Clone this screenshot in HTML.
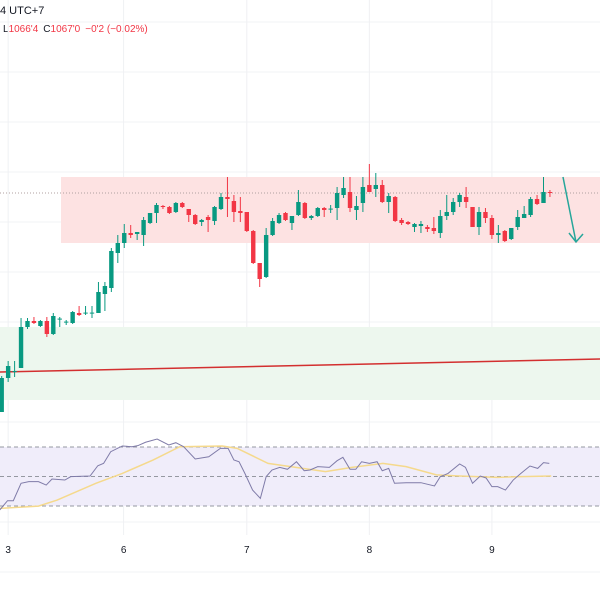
<!DOCTYPE html>
<html><head><meta charset="utf-8"><style>
html,body{margin:0;padding:0;background:#fff;width:600px;height:600px;overflow:hidden}
svg{display:block;font-family:"Liberation Sans",sans-serif}
</style></head><body>
<svg id="chart" width="600" height="600">
<text x="0" y="14" font-size="11" fill="#131722">4 UTC+7</text>
<text x="3" y="32" font-size="10"><tspan fill="#131722">L</tspan><tspan fill="#f23645">1066'4</tspan><tspan fill="#131722" dx="5">C</tspan><tspan fill="#f23645">1067'0</tspan><tspan fill="#f23645" dx="5">−0'2 (−0.02%)</tspan></text>
<g id="grid"></g><g id="zones"></g><g id="candles"></g><g id="rsi"></g><g id="xaxis"></g>
</svg>
<script>
const opens=[1044,1061,1064,1066,1086.5,1089.5,1087,1089.5,1083,1090.5,1089,1088.5,1093.5,1093.5,1093.2,1093.5,1103,1106,1123.5,1128.5,1133.5,1133,1132.5,1138.5,1143.5,1147,1146.5,1144,1148.5,1145.5,1142.5,1139,1141.5,1139.5,1145.5,1151.5,1149.5,1144.5,1144,1134.5,1118.5,1111.5,1132.5,1138.5,1143.5,1138.5,1142.5,1148.5,1141,1142,1146,1145.5,1146,1152.5,1154,1145,1148.5,1157.5,1155.5,1157.5,1149,1151.5,1140,1139,1136.5,1137,1136.5,1136,1133.5,1142,1144,1149,1151.5,1146.5,1136.5,1144,1141,1132.5,1134.5,1130.5,1136.5,1141,1142.5,1150.5,1148.5,1154];
const highs=[1062,1069.5,1069.5,1091,1091,1091.5,1090,1091.5,1093.5,1091.5,1090,1094.5,1097,1097,1097,1109,1109,1126,1132.5,1138,1137.5,1134,1141.5,1143.5,1148.5,1147.5,1147,1149,1149,1145.5,1143,1140.5,1142.5,1147,1153.5,1161.5,1152.5,1151.5,1144,1135,1118.5,1136,1141,1143.5,1144,1142,1155,1149,1142.5,1146.5,1146.5,1147.5,1156.5,1161.5,1161.5,1152,1161.5,1168,1163.5,1160,1153.5,1152,1141,1139.5,1138.5,1139.5,1137.5,1141.5,1145,1152.5,1151,1153.5,1156.5,1146.5,1146.5,1146,1142.5,1137.5,1135,1136,1145,1147,1151.5,1152.5,1161.5,1155];
const lows=[1044,1059,1061.5,1066,1085.5,1088,1086.5,1081.5,1082.5,1086.5,1087.5,1088,1092,1092.5,1091,1093.5,1094.5,1104,1118.5,1126,1131,1130,1127,1138,1138.5,1145.5,1143,1143.5,1146,1139,1137.5,1137,1134,1137.5,1145,1141.5,1139,1139,1134,1118,1106.5,1111,1132,1138,1139.5,1135,1142,1140.5,1140,1141.5,1141.5,1143.5,1140,1151,1144,1140,1144,1154,1151.5,1148.5,1143.5,1139,1137.5,1137.5,1134,1133.5,1134,1133,1131,1140,1142.5,1146.5,1146,1136.5,1132.5,1138.5,1130.5,1128.5,1129,1130,1135,1141,1141.5,1147.5,1148.5,1151.5];
const closes=[1061,1067,1064.5,1086.5,1089.5,1088.5,1089.5,1083,1092,1090.7,1089.2,1094,1092.5,1093.7,1093.7,1104,1107,1124.5,1128.5,1133.5,1132.5,1134,1140,1143.5,1147.5,1146.5,1143.5,1148.5,1146.5,1142.5,1138,1140,1140,1146.5,1151.5,1150.5,1144,1143.5,1134.5,1118.5,1110.5,1132.5,1139.5,1142.5,1140,1142,1149,1141,1142,1146,1145,1145.7,1153.5,1156,1146,1147,1156.5,1154,1157.5,1149,1152,1139.5,1138.5,1138,1138,1138,1135.5,1134.5,1142,1144,1149,1152.5,1149,1136.5,1144,1141,1132.5,1133.5,1129.5,1136,1141.5,1143,1150.5,1148,1154,1153.5];
const rsiIdx=[-0.3,0.9,1.8,3.0,4.2,5.7,6.9,7.8,9.8,10.7,13.7,14.9,15.8,16.9,18.7,20.2,21.1,22.3,24.1,25.9,27.0,28.2,30.0,32.1,33.9,35.1,36.0,36.8,37.7,38.9,40.1,41.0,41.9,43.1,44.3,45.7,46.9,47.8,49.0,50.8,52.0,52.9,54.0,54.9,55.8,57.0,58.2,59.0,60.0,60.9,62.7,65.0,67.1,68.0,69.2,71.0,71.9,73.0,74.2,75.1,76.0,76.9,78.1,79.3,80.5,81.9,83.1,84.0,84.9];
const rsiVals=[27.3,33.6,33.6,45.4,46.5,46.5,44.2,48.3,47.6,49.9,50.3,57.3,58.9,66.8,70.7,70.2,70.9,73.2,75.4,71.4,72.9,70.2,61.9,63.4,69.1,69.1,61.2,60,52.1,40.8,35.2,49.9,54.4,56.2,54.9,60,53.9,54.4,56.7,56.2,60.7,63,54.9,54.9,60,58.9,60,53.9,55.5,45.4,45.8,45.8,43.6,49.9,52.1,58.5,56.2,45.4,50.3,49,43.1,43.1,40.8,47.6,52.1,57.1,55.5,59.4,58.9];
const maIdx=[-0.3,5.7,8.6,14.6,18.7,23.5,27.6,34.2,36.5,41.3,44.8,50.2,54.3,59.1,62.7,67.4,71.0,76.9,80.5,85.2];
const maVals=[28.4,29.9,34.0,45.4,52.1,61.2,70.2,70.7,69.1,58.9,56.7,53.3,56.2,58.9,56.7,51.1,50.3,49.4,49.9,50.3];
const xLabels=["3","6","7","8","9"];
const xLabelIdx=[1,18.9,38,57,76];
const resistZone=[1128.5,1161.5], supportZone=[1050,1086.5];
const trendLine=[1064,1070.5];
const lastPrice=1153.5;
const rsiLevels=[70,50,30];

const NS="http://www.w3.org/2000/svg";
const xS=i=>1.7+i*6.45;
const yS=p=>(1250-p)*2;
const rY=v=>476.5-(v-50)*1.475;
function mk(tag,attrs,parent){const e=document.createElementNS(NS,tag);for(const k in attrs)e.setAttribute(k,attrs[k]);parent.appendChild(e);return e;}
const G=id=>document.getElementById(id);

// grid
for(let y=22;y<600;y+=50){const l=mk('line',{x1:0,x2:600,y1:y,y2:y,stroke:'#f2f3f5','stroke-width':1},G('grid'));

}
xLabelIdx.forEach((v,k)=>{const l=mk('line',{x1:xS(v),x2:xS(v),y1:0,y2:535,stroke:'#eff0f3','stroke-width':1},G('grid'));


const t=mk('text',{x:xS(v),y:553,'font-size':10,fill:'#131722','text-anchor':'middle'},G('xaxis'));t.textContent=xLabels[k];

});

// zones
const rz=mk('rect',{x:61,y:yS(resistZone[1]),width:539,height:yS(resistZone[0])-yS(resistZone[1]),fill:'#fde2e2'},G('zones'));


const sz=mk('rect',{x:0,y:yS(supportZone[1]),width:600,height:yS(supportZone[0])-yS(supportZone[1]),fill:'#edf7ee'},G('zones'));


const pl=mk('line',{x1:0,x2:600,y1:yS(lastPrice),y2:yS(lastPrice),stroke:'#b0a0a0','stroke-width':1,'stroke-dasharray':'1 2'},G('zones'));


const tl=mk('line',{x1:0,x2:600,y1:yS(trendLine[0]),y2:yS(trendLine[1]),stroke:'#d32f2f','stroke-width':1.5},G('zones'));


const ar=mk('path',{d:'M563 177 L576 242 M569 233 L576 242 L583 234',stroke:'#26a69a','stroke-width':1.5,fill:'none'},G('zones'));



// candles
opens.forEach((o,i)=>{const c=closes[i],x=xS(i),col=c>=o?'#089981':'#f23645';
const g=mk('g',{},G('candles'));


mk('line',{x1:x,x2:x,y1:yS(highs[i]),y2:yS(lows[i]),stroke:col,'stroke-width':1},g);
const top=Math.min(yS(o),yS(c)),h=Math.max(1,Math.abs(yS(o)-yS(c)));
mk('rect',{x:x-2.2,y:top,width:4.4,height:h,fill:col},g);});

// rsi
const band=mk('rect',{x:0,y:rY(70),width:600,height:rY(30)-rY(70),fill:'#f0edfa'},G('rsi'));


rsiLevels.forEach(v=>{const l=mk('line',{x1:0,x2:600,y1:rY(v),y2:rY(v),stroke:'#9598a1','stroke-width':1,'stroke-dasharray':'4 3'},G('rsi'));

});
const ma=mk('polyline',{points:maIdx.map((t,i)=>xS(t)+','+rY(maVals[i])).join(' '),fill:'none',stroke:'#f5d98c','stroke-width':1.5},G('rsi'));


const rl=mk('polyline',{points:rsiIdx.map((t,i)=>xS(t)+','+rY(rsiVals[i])).join(' '),fill:'none',stroke:'#7f7ba8','stroke-width':1},G('rsi'));


</script>
</body></html>
